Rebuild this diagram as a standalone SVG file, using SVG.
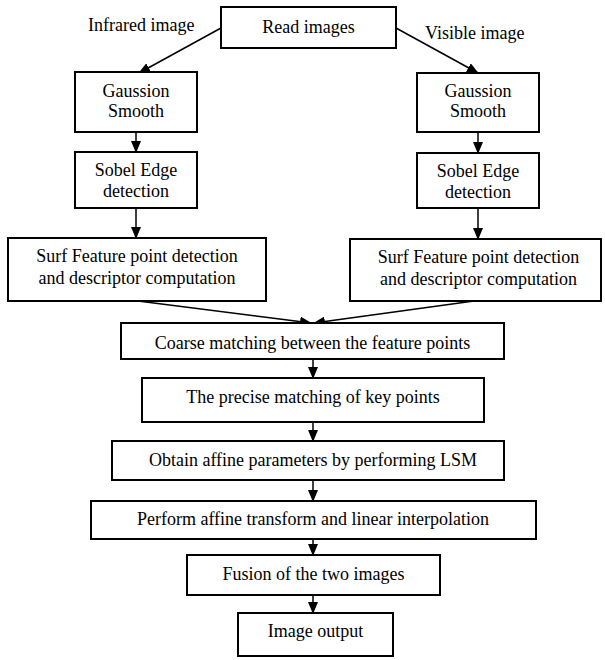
<svg xmlns="http://www.w3.org/2000/svg" width="605" height="660" viewBox="0 0 605 660" font-family="'Liberation Serif', 'Times New Roman', serif" font-size="18">
<defs>
<marker id="ah" markerWidth="12" markerHeight="10" refX="11" refY="5" orient="auto" markerUnits="userSpaceOnUse">
<path d="M0,0 L12,5 L0,10 Z" fill="#000"/>
</marker>
<style>
.box{fill:#fff;stroke:#000;stroke-width:2}
.txt{font-family:'Liberation Serif','Times New Roman',serif;font-size:18px;fill:#000;text-anchor:middle}
.lbl{font-family:'Liberation Serif','Times New Roman',serif;font-size:18px;fill:#000}
.c{stroke:#000;stroke-width:1.5;fill:none;marker-end:url(#ah)}
</style>
</defs>
<rect width="605" height="660" fill="#fff"/>
<g id="connectors">
<line class="c" x1="221" y1="28" x2="139" y2="73"/>
<line class="c" x1="396" y1="28" x2="478" y2="73"/>
<line class="c" x1="136" y1="132" x2="136" y2="152"/>
<line class="c" x1="478" y1="132" x2="478" y2="153"/>
<line class="c" x1="136" y1="208" x2="136" y2="238"/>
<line class="c" x1="478" y1="208" x2="478" y2="239"/>
<line class="c" x1="138" y1="301" x2="311" y2="323"/>
<line class="c" x1="474" y1="301" x2="314" y2="323"/>
<line class="c" x1="313" y1="359" x2="313" y2="378"/>
<line class="c" x1="313" y1="422" x2="313" y2="441"/>
<line class="c" x1="313" y1="480" x2="313" y2="501"/>
<line class="c" x1="313" y1="539" x2="313" y2="555"/>
<line class="c" x1="313" y1="595" x2="313" y2="613"/>
</g>
<g id="label-infrared"><text class="lbl" x="88" y="31">Infrared image</text></g>
<g id="label-visible"><text class="lbl" x="425" y="39">Visible image</text></g>
<g id="read-images">
<rect class="box" x="221" y="7" width="175" height="41"/>
<text class="txt" x="308.5" y="33">Read images</text>
</g>
<g id="gauss-left">
<rect class="box" x="75" y="72" width="122" height="60"/>
<text class="txt" x="136" y="97">Gaussion</text>
<text class="txt" x="136" y="117">Smooth</text>
</g>
<g id="gauss-right">
<rect class="box" x="417" y="73" width="122" height="59"/>
<text class="txt" x="478" y="97">Gaussion</text>
<text class="txt" x="478" y="117">Smooth</text>
</g>
<g id="sobel-left">
<rect class="box" x="75" y="152" width="122" height="56"/>
<text class="txt" x="136" y="176">Sobel Edge</text>
<text class="txt" x="136" y="197">detection</text>
</g>
<g id="sobel-right">
<rect class="box" x="417" y="153" width="122" height="55"/>
<text class="txt" x="478" y="177">Sobel Edge</text>
<text class="txt" x="478" y="198">detection</text>
</g>
<g id="surf-left">
<rect class="box" x="8" y="238" width="258" height="63"/>
<text class="txt" x="137" y="262">Surf Feature point detection</text>
<text class="txt" x="137" y="284">and descriptor computation</text>
</g>
<g id="surf-right">
<rect class="box" x="350" y="239" width="251" height="62"/>
<text class="txt" x="478.5" y="263">Surf Feature point detection</text>
<text class="txt" x="478.5" y="285">and descriptor computation</text>
</g>
<g id="coarse">
<rect class="box" x="121" y="323" width="383" height="36"/>
<text class="txt" x="312.5" y="349">Coarse matching between the feature points</text>
</g>
<g id="precise">
<rect class="box" x="142" y="378" width="342" height="44"/>
<text class="txt" x="313" y="403">The precise matching of key points</text>
</g>
<g id="obtain">
<rect class="box" x="112" y="441" width="392" height="39"/>
<text class="txt" x="313" y="466">Obtain affine parameters by performing LSM</text>
</g>
<g id="perform">
<rect class="box" x="91" y="501" width="445" height="38"/>
<text class="txt" x="313" y="525">Perform affine transform and linear interpolation</text>
</g>
<g id="fusion">
<rect class="box" x="187" y="555" width="253" height="40"/>
<text class="txt" x="313.5" y="580">Fusion of the two images</text>
</g>
<g id="output">
<rect class="box" x="238" y="613" width="155" height="43"/>
<text class="txt" x="315.5" y="637">Image output</text>
</g>
</svg>
